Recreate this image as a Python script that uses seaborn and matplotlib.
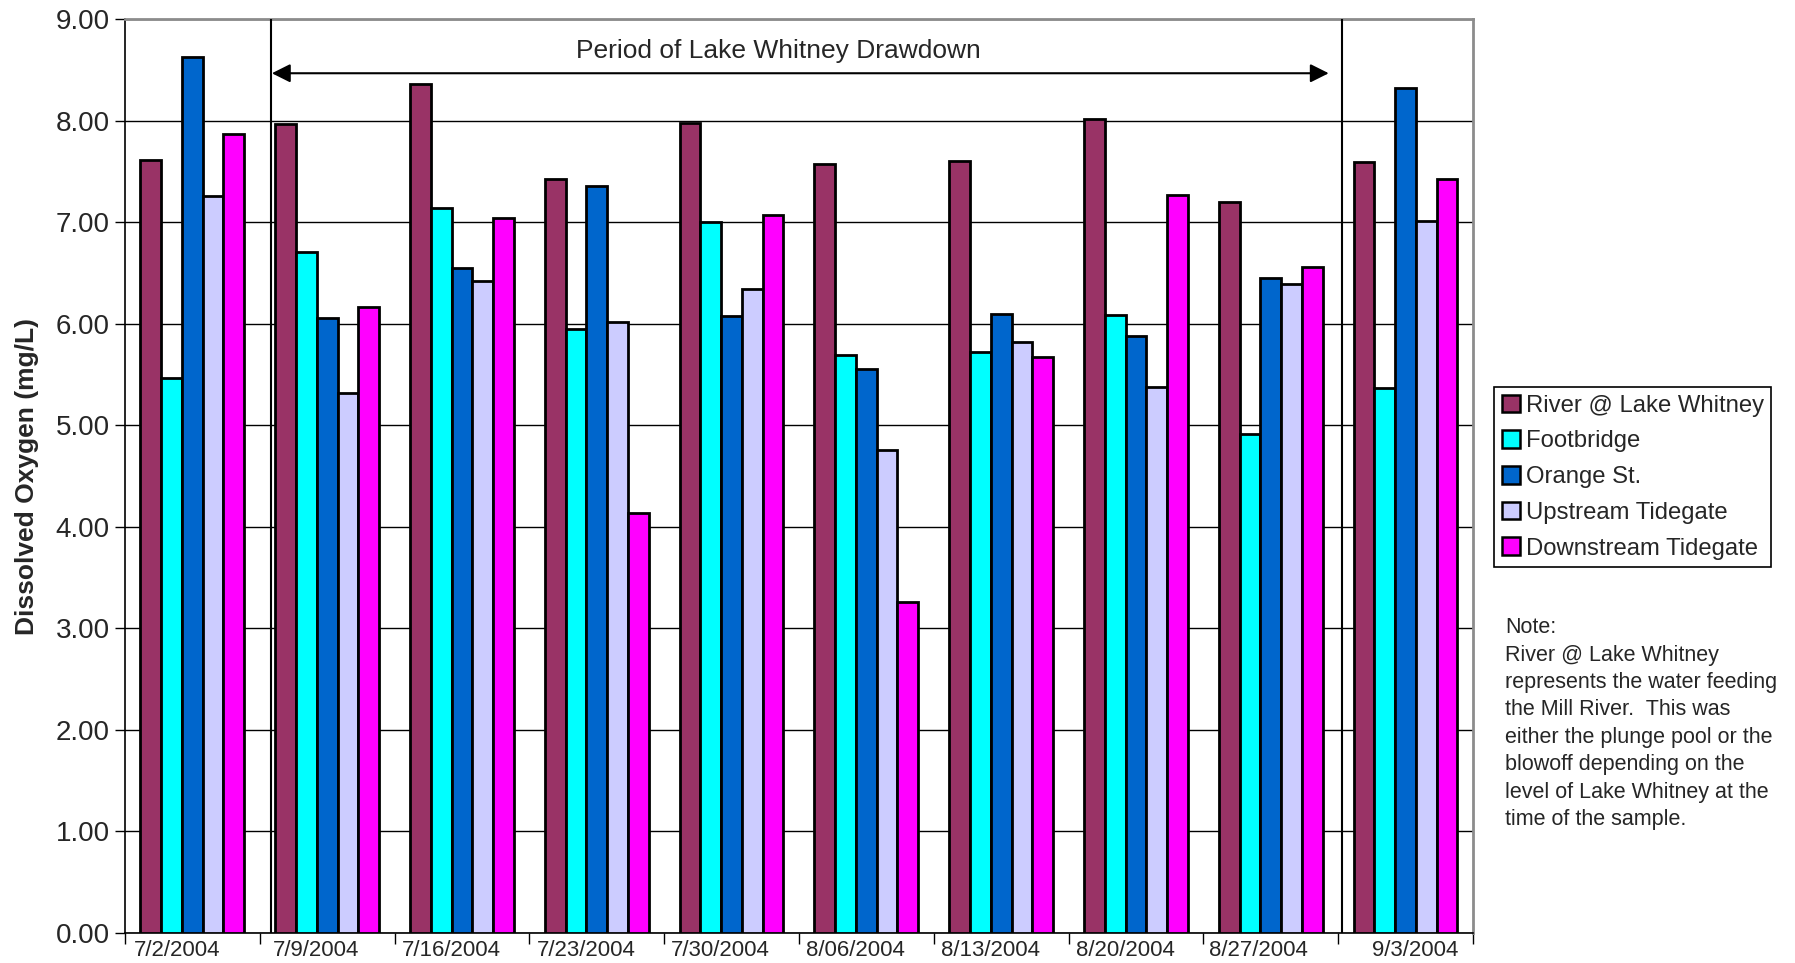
import matplotlib
matplotlib.use("Agg")
import matplotlib.pyplot as plt
import matplotlib.patches as mpatches
import numpy as np
import pandas as pd
import seaborn as sns

# Sampling dates and sites
dates = ["7/2/2004", "7/9/2004", "7/16/2004", "7/23/2004", "7/30/2004",
         "8/06/2004", "8/13/2004", "8/20/2004", "8/27/2004", "9/3/2004"]
sites = ["River @ Lake Whitney", "Footbridge", "Orange St.",
         "Upstream Tidegate", "Downstream Tidegate"]

# Dissolved oxygen (mg/L) per site, one value per date
river = [7.62, 7.97, 8.36, 7.43, 7.98, 7.58, 7.61, 8.02, 7.20, 7.60]
footbridge = [5.47, 6.71, 7.14, 5.95, 7.00, 5.69, 5.72, 6.09, 4.92, 5.37]
orange_st = [8.63, 6.06, 6.55, 7.36, 6.08, 5.56, 6.10, 5.88, 6.45, 8.32]
upstream = [7.26, 5.32, 6.42, 6.02, 6.34, 4.76, 5.82, 5.38, 6.39, 7.01]
downstream = [7.87, 6.17, 7.04, 4.14, 7.07, 3.26, 5.67, 7.27, 6.56, 7.43]

colors = ["#993366", "#00FFFF", "#0066CC", "#CCCCFF", "#FF00FF"]

series = [river, footbridge, orange_st, upstream, downstream]
df = pd.DataFrame({
    "date": np.tile(dates, len(sites)),
    "site": np.repeat(sites, len(dates)),
    "value": np.concatenate(series),
})

sns.set_theme(style="white")
plt.rcParams["font.family"] = ["Liberation Sans", "DejaVu Sans"]

fig = plt.figure(figsize=(17.95, 9.63), dpi=100)
ax = fig.add_axes([0.0696, 0.0312, 0.7510, 0.9486])

sns.barplot(data=df, x="date", y="value", hue="site", order=dates,
            hue_order=sites, palette=colors, edgecolor="black", linewidth=2,
            width=0.77, gap=0, saturation=1, ax=ax, legend=False, zorder=3)

ax.set_ylim(0, 9)
ax.set_xlim(-0.5, len(dates) - 0.5)
ax.set_yticks(np.arange(0, 10, 1))
ax.set_yticklabels([f"{v:.2f}" for v in np.arange(0, 10, 1)], fontsize=20)
ax.yaxis.grid(True, color="black", linewidth=1, zorder=0)
ax.set_axisbelow(True)

# Category ticks between dates, labels under each group
ax.set_xticks(np.arange(-0.5, len(dates), 1))
ax.set_xticklabels([])
label_shift = [-0.11, -0.08, -0.08, -0.08, -0.08, -0.08, -0.08, -0.08, -0.09, 0.07]
ax.set_xticks(np.arange(len(dates)) + np.array(label_shift), minor=True)
ax.set_xticklabels(dates, minor=True, fontsize=16)
ax.tick_params(axis="x", which="major", length=8, width=1, color="black",
               direction="out", bottom=True)
ax.tick_params(axis="x", which="minor", length=0, pad=5)
ax.tick_params(axis="y", which="major", length=7, width=1, color="black",
               direction="out", left=True, pad=4)
ax.set_xlabel("")
ax.set_ylabel("Dissolved Oxygen (mg/L)", fontsize=19, fontweight="bold",
              labelpad=12)

for side in ["left", "bottom"]:
    ax.spines[side].set_color("black")
    ax.spines[side].set_linewidth(1.2)
for side in ["top", "right"]:
    ax.spines[side].set_color("#8c8c8c")
    ax.spines[side].set_linewidth(2)

# Drawdown period markers
ax.axvline(0.583, color="black", linewidth=1.5, zorder=4)
ax.axvline(8.528, color="black", linewidth=1.5, zorder=4)
ax.annotate("", xy=(0.59, 8.47), xytext=(8.43, 8.47),
            arrowprops=dict(arrowstyle="<|-|>", color="black", lw=1.5,
                            mutation_scale=28, shrinkA=0, shrinkB=0),
            zorder=5)
ax.text(4.35, 8.69, "Period of Lake Whitney Drawdown", ha="center",
        va="center", fontsize=19)

handles = [mpatches.Patch(facecolor=c, edgecolor="black", linewidth=1.8, label=s)
           for c, s in zip(colors, sites)]
leg = fig.legend(handles=handles, loc="upper left",
                 bbox_to_anchor=(0.8323, 0.5981), bbox_transform=fig.transFigure,
                 fontsize=17.2, frameon=True, fancybox=False, framealpha=1,
                 edgecolor="black", handlelength=0.75, handleheight=0.75,
                 handletextpad=0.25, labelspacing=0.57, borderpad=0.32,
                 borderaxespad=0)
leg.get_frame().set_linewidth(1.2)

note = ("Note:\nRiver @ Lake Whitney\nrepresents the water feeding\n"
        "the Mill River.  This was\neither the plunge pool or the\n"
        "blowoff depending on the\nlevel of Lake Whitney at the\n"
        "time of the sample.")
fig.text(0.8384, 0.359, note, ha="left", va="top", fontsize=15.5,
         linespacing=1.4)

fig.savefig("out.png", dpi=100)
